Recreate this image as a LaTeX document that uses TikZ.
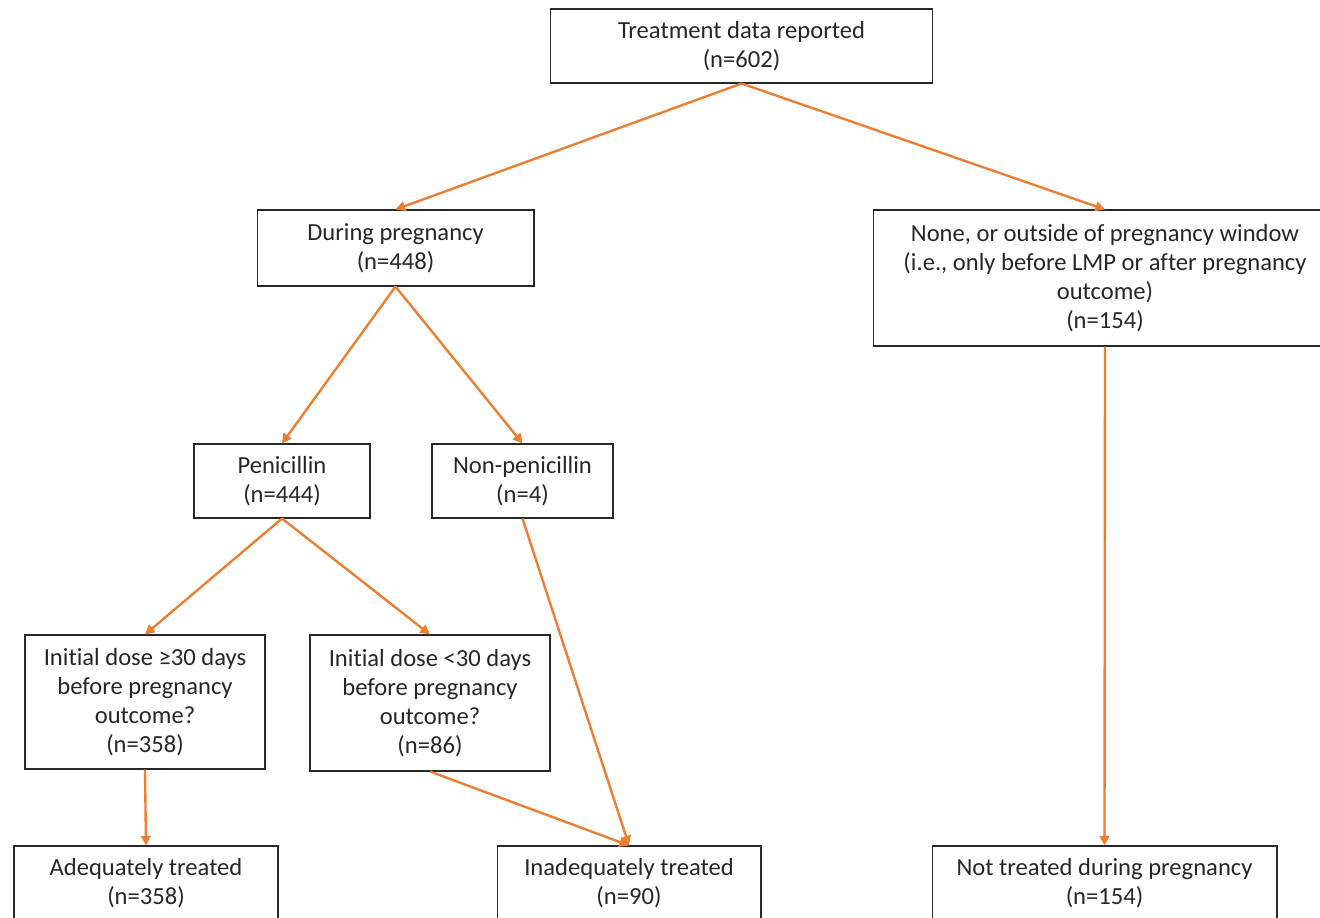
\documentclass[tikz,border=0pt]{standalone}
\usepackage{fontspec}
\setmainfont{Carlito}[Ligatures=NoCommon]
\usetikzlibrary{arrows.meta}
\definecolor{arrorange}{RGB}{237,125,49}
\definecolor{boxline}{RGB}{40,40,40}

\begin{document}
\begin{tikzpicture}[x=0.02cm, y=-0.02cm,
	box/.style={draw=boxline, line width=0.6pt, align=center, inner sep=0pt,
		font=\fontsize{14}{16.6}\selectfont, text=black!85},
	flow/.style={draw=arrorange, line width=1.35pt, -{Triangle[length=5.5pt,width=5.5pt]}}]
		%%%%% START %%%%%
		
		\useasboundingbox (0, 0) rectangle (1320, 918);
		\clip (0, 0) rectangle (1320, 918);
		
		\node[box, minimum width=7.66cm, minimum height=1.48cm] (total) at (741.5, 46) {Treatment data reported\\(n=602)};
		
		\node[box, minimum width=5.54cm, minimum height=1.52cm] (during) at (395.5, 248) {During pregnancy\\(n=448)};
		\node[box, minimum width=9.28cm, minimum height=2.72cm] (outside) at (1105, 278) {None, or outside of pregnancy window\\(i.e., only before LMP or after pregnancy\\outcome)\\(n=154)};
		
		\node[box, minimum width=3.52cm, minimum height=1.48cm] (pen) at (282, 481) {Penicillin\\(n=444)};
		\node[box, minimum width=3.62cm, minimum height=1.48cm] (nonpen) at (522.5, 481) {Non-penicillin\\(n=4)};
		
		\node[box, minimum width=4.8cm, minimum height=2.68cm] (early) at (145, 702) {Initial dose ≥30 days\\before pregnancy\\outcome?\\(n=358)};
		\node[box, minimum width=4.8cm, minimum height=2.72cm] (late) at (430, 703) {Initial dose <30 days\\before pregnancy\\outcome?\\(n=86)};
		
		\node[box, minimum width=5.28cm, minimum height=1.48cm] (adequate) at (146, 883) {Adequately treated\\(n=358)};
		\node[box, minimum width=5.28cm, minimum height=1.48cm] (inadequate) at (629, 883) {Inadequately treated\\(n=90)};
		\node[box, minimum width=6.9cm, minimum height=1.48cm] (nottreated) at (1104.5, 883) {Not treated during pregnancy\\(n=154)};
		
		\draw[flow] (total.south) -- (during.north);
		\draw[flow] (total.south) -- (outside.north);
		
		\draw[flow] (during.south) -- (pen.north);
		\draw[flow] (during.south) -- (nonpen.north);
		
		\draw[flow] (pen.south) -- (early.north);
		\draw[flow] (pen.south) -- (late.north);
		
		\draw[flow] (early.south) -- (adequate.north);
		\draw[flow] (late.south) -- (inadequate.north);
		\draw[flow] (nonpen.south) -- (inadequate.north);
		\draw[flow] (outside.south) -- (nottreated.north);
		
		%%%%% END %%%%%
\end{tikzpicture}
\end{document}
